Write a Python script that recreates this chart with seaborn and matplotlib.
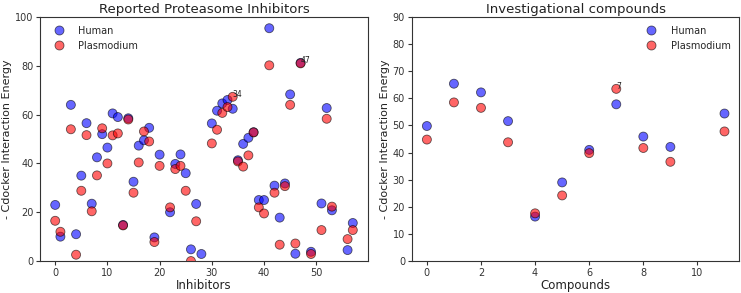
import numpy as np
import pandas as pd
import matplotlib
matplotlib.use("Agg")
import matplotlib.pyplot as plt
import seaborn as sns

nan = np.nan

# Left panel: reported proteasome inhibitors
inhibitors = list(range(58))
human_inh = [23, 10, nan, 64, 11, 35, 56.5, 23.5, 42.5, 52,
             46.5, 60.5, 59, 14.8, 58.5, 32.5, 47.3, 49.5, 54.6, 9.7,
             43.6, nan, 20, 39.8, 43.7, 36, 4.8, 23.4, 2.9, nan,
             56.4, 61.6, 64.6, 66, 62.4, 41.3, 48, 50.5, 52.8, 25,
             25, 95.4, 30.9, 17.8, 31.8, 68.3, 3, 81.2, nan, 3.8,
             nan, 23.6, 62.7, 20.8, nan, nan, 4.5, 15.6]
plasmo_inh = [16.5, 12, nan, 54, 2.6, 28.8, 51.6, 20.4, 35.1, 54.4,
              40, 51.5, 52.3, 14.6, 58, 28, 40.4, 53.1, 49, 7.8,
              39, nan, 22, 37.7, 39, 28.8, 0, 16.3, nan, nan,
              48.2, 53.8, 60.7, 63.1, 67.3, 40.8, 38.7, 43.3, 52.7, 22,
              19.5, 80.2, 28, 6.7, 30.7, 64, 7.2, 81, nan, 2.9,
              nan, 12.7, 58.3, 22.3, nan, nan, 9, 12.7]
labels_inh = [34, 47]

# Right panel: investigational compounds
compounds = [0, 1, 2, 3, 4, 5, 6, 7, 8, 9, 11]
human_cmp = [49.8, 65.4, 62.2, 51.6, 16.4, 29.0, 41.0, 57.8, 45.9, 42.1, 54.4]
plasmo_cmp = [44.8, 58.5, 56.5, 43.8, 17.6, 24.2, 39.8, 63.5, 41.7, 36.6, 47.8]
labels_cmp = [7]

series_names = ["Human", "Plasmodium"]
palette = {"Human": "blue", "Plasmodium": "red"}


def long_df(x, h, p):
    return pd.DataFrame({
        "x": list(x) + list(x),
        "y": list(h) + list(p),
        "series": [series_names[0]] * len(x) + [series_names[1]] * len(x),
    })


sns.set_style("ticks")
plt.rcParams['font.family'] = ['DejaVu Sans']

fig = plt.figure(figsize=(7.41, 2.93), dpi=100)
ax1 = fig.add_axes([0.0544, 0.109, 0.4418, 0.833])
ax2 = fig.add_axes([0.556, 0.109, 0.4418, 0.833])

df1 = long_df(inhibitors, human_inh, plasmo_inh)
df2 = long_df(compounds, human_cmp, plasmo_cmp)

for ax, df, title, xlabel, ylim, loc, labs, xs, ps in [
    (ax1, df1, "Reported Proteasome Inhibitors", "Inhibitors", (0, 100), "upper left",
     labels_inh, inhibitors, plasmo_inh),
    (ax2, df2, "Investigational compounds", "Compounds", (0, 90), "upper right",
     labels_cmp, compounds, plasmo_cmp),
]:
    sns.scatterplot(data=df, x="x", y="y", hue="series", palette=palette,
                    alpha=0.6, s=42, edgecolor="black", linewidth=0.6, ax=ax)
    ax.set_ylim(*ylim)
    ax.set_title(title, fontsize=9.5, pad=3, color="#222222")
    ax.set_xlabel(xlabel, fontsize=8.5, labelpad=1, color="#222222")
    ax.set_ylabel("- Cdocker Interaction Energy", fontsize=8, labelpad=2,
                  color="#222222")
    ax.tick_params(labelsize=7, length=3, pad=2, labelcolor="#333333",
                   color="#333333")
    for lab in labs:
        i = list(xs).index(lab)
        ax.annotate(str(lab), (xs[i], ps[i]), fontsize=5.5, color="#222222")
    leg = ax.legend(loc=loc, frameon=False, fontsize=7, handletextpad=1.0)
    for sp in ax.spines.values():
        sp.set_color("#333333")
        sp.set_linewidth(0.8)

ax1.set_xticks([0, 10, 20, 30, 40, 50])
ax2.set_xticks([0, 2, 4, 6, 8, 10])
ax1.set_yticks([0, 20, 40, 60, 80, 100])
ax2.set_yticks(range(0, 91, 10))

fig.savefig("out.png", dpi=100)
